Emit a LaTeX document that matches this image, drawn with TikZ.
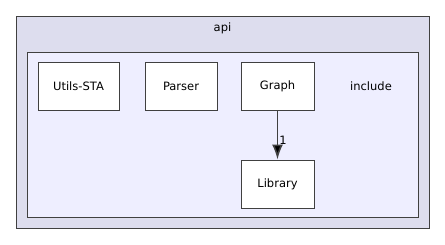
\documentclass[tikz,border=0pt]{standalone}
\usepackage{fontspec}
\setmainfont{DejaVu Sans}
\usepackage{xcolor}
\usepackage{tikz}
\usetikzlibrary{arrows.meta, positioning}
\definecolor{edgegrey}{RGB}{64, 64, 64}
\definecolor{outerlilac}{RGB}{221, 221, 238}
\definecolor{innerlilac}{RGB}{238, 238, 255}

\begin{document}
\begin{tikzpicture}[
    x=1pt, y=-1pt,
    font=\fontsize{11.5}{13}\selectfont,
    node distance=49pt and 24pt,
    dirbox/.style={rectangle, draw=edgegrey, fill=white, line width=1pt, align=center, minimum width=73pt, minimum height=48pt, inner sep=0pt},
    cluster/.style={draw=edgegrey, line width=1pt}
]
\useasboundingbox (0,0) rectangle (445,244);

% clusters
\draw [cluster, fill=outerlilac] (16,16) rectangle (429,228);
\draw [cluster, fill=innerlilac] (27,52) rectangle (418,217);
\node (api) at (222.5,28) {api};
\node (include) at (371,86) {include};

% directories
\node [dirbox, minimum width=81pt] (utils) at (78.5,86) {Utils-STA};
\node [dirbox, minimum width=72pt, right=25pt of utils] (parser) {Parser};
\node [dirbox, right=23pt of parser] (graph) {Graph};
\node [dirbox, below=of graph] (library) {Library};

\draw [edgegrey, line width=1.6pt, -{Latex[length=15pt,width=11pt,fill=black]}] (graph) -- node[right, pos=0.6, inner sep=1pt, text=black]{1} (library);

\end{tikzpicture}
\end{document}
